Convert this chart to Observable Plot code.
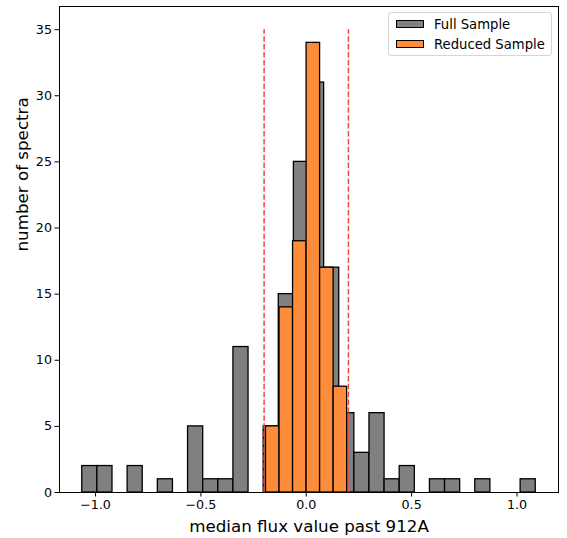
<!DOCTYPE html>
<html>
<head>
<meta charset="utf-8">
<script src="https://cdn.jsdelivr.net/npm/d3@7"></script>
<script src="https://cdn.jsdelivr.net/npm/@observablehq/plot@0.6"></script>
<style>
  html, body { margin: 0; padding: 0; background: #fff; }
  #wrap { position: relative; width: 567px; height: 538px; font-family: "DejaVu Sans", sans-serif; }
  #legend { position: absolute; left: 388px; top: 12px; width: 164px; height: 44px; box-sizing: border-box;
            border: 1px solid #d6d6d6; border-radius: 3px; background: rgba(255,255,255,0.85); font-size: 13.2px; color: #000; }
  .row { position: absolute; left: 7px; height: 16px; display: flex; align-items: center; }
  .patch { width: 26px; height: 6.5px; border: 1px solid #000; margin-right: 10px; }
</style>
</head>
<body>
<div id="wrap">
  <div id="chart"></div>
  <div id="legend">
    <div class="row" style="top:3px"><div class="patch" style="background:#808080"></div>Full Sample</div>
    <div class="row" style="top:23px"><div class="patch" style="background:#fe8d3b"></div>Reduced Sample</div>
  </div>
</div>
<script>
// Full sample histogram: 30 bins between fullMin and fullMax
const fullMin = -1.063;
const fullMax = 1.089;
const fullCounts = [2, 2, 0, 2, 0, 1, 0, 5, 1, 1, 11, 0, 5, 15, 25, 31, 17, 6, 3, 6, 1, 2, 0, 1, 1, 0, 1, 0, 0, 1];
// Reduced sample histogram: 6 bins between redMin and redMax
const redMin = -0.191;
const redMax = 0.194;
const redCounts = [5, 14, 19, 34, 17, 8];
// Cut lines
const cutValues = [-0.2, 0.2];
const cutTop = 35;
const xTicks = [-1.0, -0.5, 0.0, 0.5, 1.0];
const yTicks = [0, 5, 10, 15, 20, 25, 30, 35];
const xLabel = "median flux value past 912A";
const yLabel = "number of spectra";

function binsOf(min, max, counts) {
  const w = (max - min) / counts.length;
  return counts.map((c, i) => ({x1: min + i * w, x2: min + (i + 1) * w, y: c}));
}
const fullBins = binsOf(fullMin, fullMax, fullCounts);
const redBins = binsOf(redMin, redMax, redCounts);
const cuts = cutValues.map(v => ({x: v, y1: 0, y2: cutTop}));

const chart = Plot.plot({
  width: 567,
  height: 538,
  marginLeft: 59,
  marginRight: 9,
  marginTop: 6,
  marginBottom: 46,
  style: {fontFamily: "DejaVu Sans, sans-serif", fontSize: "12.7px", color: "#000", background: "#fff"},
  x: {domain: [-1.171, 1.197]},
  y: {domain: [0, 36.75]},
  marks: [
    Plot.rectY(fullBins, {x1: "x1", x2: "x2", y: "y", fill: "#808080", stroke: "#000", strokeWidth: 1.3}),
    Plot.rectY(redBins, {x1: "x1", x2: "x2", y: "y", fill: "#fe8d3b", stroke: "#000", strokeWidth: 1.3}),
    Plot.ruleX(cuts, {x: "x", y1: "y1", y2: "y2", stroke: "#f0493a", strokeWidth: 1.5, strokeDasharray: "5.5,2.4"}),
    Plot.frame({stroke: "#000", strokeWidth: 1}),
    Plot.axisX({ticks: xTicks, tickFormat: d3.format(".1f"), tickSize: 4.5, tickPadding: 3, label: null}),
    Plot.axisY({ticks: yTicks, tickFormat: d3.format("d"), tickSize: 4.5, tickPadding: 3, label: null}),
    Plot.text([xLabel], {text: d => d, frameAnchor: "bottom", lineAnchor: "bottom", dy: 39.5, fontSize: 16.7}),
    Plot.text([yLabel], {text: d => d, frameAnchor: "left", lineAnchor: "bottom", dx: -32, dy: 2, rotate: -90, fontSize: 16.7})
  ]
});
document.getElementById("chart").appendChild(chart);
</script>
</body>
</html>
